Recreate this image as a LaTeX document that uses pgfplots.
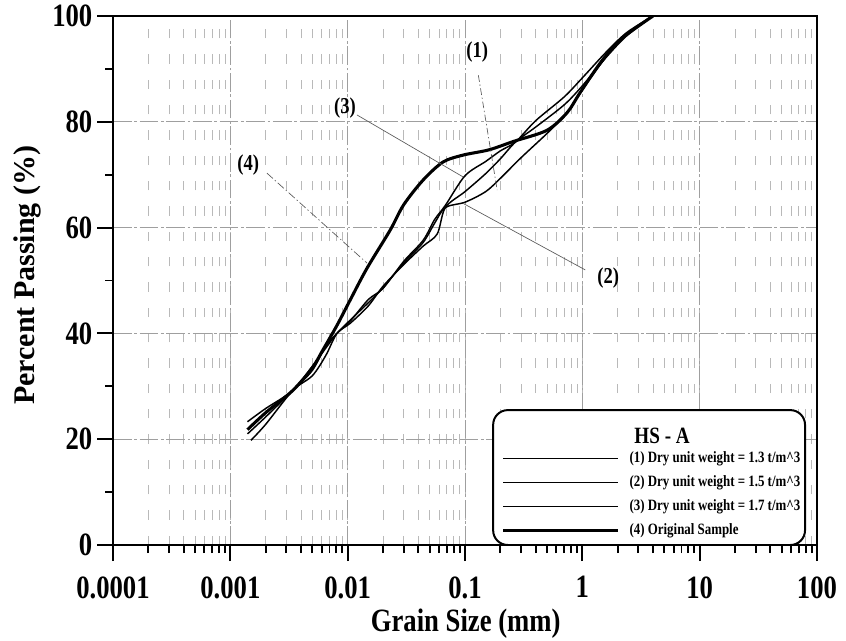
\documentclass[border=0pt]{standalone}
\usepackage{fontspec}
\setmainfont[FakeStretch=0.82]{Liberation Serif}
\newfontfamily\ylabfont{Liberation Serif}
\usepackage{pgfplots}
\pgfplotsset{compat=1.18}
\begin{document}
\begin{tikzpicture}
\begin{axis}[
  xmode=log, scale only axis, width=528pt, height=396.75pt,
  xmin=1e-4, xmax=100, ymin=0, ymax=100,
  xtick={1e-4,1e-3,1e-2,1e-1,1,10,100},
  xticklabels={0.0001,0.001,0.01,0.1,1,10,100},
  ytick={0,20,40,60,80,100},
  yticklabels={0,20,40,60,80,100},
  minor ytick={10,30,50,70,90},
  tick pos=left, tick align=outside,
  major tick length=12pt, minor tick length=6pt,
  tick style={black, line width=1.4pt},
  axis line style={line width=1.8pt},
  ticklabel style={font=\fontsize{24.4}{28}\selectfont\bfseries},
  xticklabel style={yshift=-8pt},
  xmajorgrids, ymajorgrids, xminorgrids,
  major grid style={gray!75, line width=0.6pt, dash pattern=on 14pt off 2pt on 2pt off 2pt},
  minor grid style={gray!55, line width=0.5pt, dash pattern=on 7pt off 12pt},
  xlabel={Grain Size (mm)},
  ylabel={Percent Passing (\%)},
  xlabel style={at={(rel axis cs:0.501,-0.148)}, anchor=center, font=\fontsize{24.4}{28}\selectfont\bfseries},
  ylabel style={at={(rel axis cs:-0.122,0.51)}, anchor=center, font=\ylabfont\fontsize{22.5}{26}\selectfont\bfseries},
  legend style={draw=none, fill=none, at={(rel axis cs:0.552,0.177)}, anchor=north west,
    inner sep=0pt, row sep=6pt, column sep=7.5pt,
    nodes={inner sep=0pt, text height=8.5pt, text depth=3.5pt, anchor=base west},
    font=\fontsize{11.8}{14}\selectfont\bfseries},
  legend cell align=left,
  legend image code/.code={\draw[#1] (0pt,3.5pt) -- (86pt,3.5pt);},
]
% (1) 1.3 t/m^3
\addplot[black, line width=1.1pt, smooth, tension=0.5] coordinates {
(0.0014,23.3) (0.002,25.8) (0.0034,29.2) (0.005,33.8) (0.0065,37.2) (0.0081,40)
(0.0105,42.5) (0.015,45.8) (0.02,48.6) (0.03,53.3) (0.044,57.2) (0.055,60.8)
(0.068,63.8) (0.1,64.8) (0.15,66.8) (0.2,69.3) (0.3,73.2) (0.5,77.8) (0.75,81.8)
(1.0,86) (1.5,91.5) (2.2,96) (4.0,100)};
\addlegendentry{(1) Dry unit weight = 1.3 t/m\^{}3}
% (2) 1.5 t/m^3
\addplot[black, line width=1.1pt, smooth, tension=0.5] coordinates {
(0.0015,19.8) (0.002,22.8) (0.0034,29.2) (0.005,32) (0.0065,35.8) (0.0081,40)
(0.0105,41.9) (0.015,45.2) (0.02,48.9) (0.03,53) (0.044,56.5) (0.058,58.8)
(0.068,63.8) (0.1,66.8) (0.15,70.2) (0.2,73) (0.27,76.2) (0.4,79) (0.7,83.2)
(1.0,86.8) (1.6,92.2) (2.4,96.3) (4.0,100)};
\addlegendentry{(2) Dry unit weight = 1.5 t/m\^{}3}
% (3) 1.7 t/m^3
\addplot[black, line width=1.1pt, smooth, tension=0.5] coordinates {
(0.0014,21) (0.002,24.2) (0.0034,29.2) (0.005,33) (0.0065,37.6) (0.0081,40)
(0.0105,42.3) (0.015,46.4) (0.02,48.5) (0.03,53.6) (0.044,57.6) (0.055,61.5)
(0.068,64.2) (0.1,69.8) (0.15,72.5) (0.2,74.5) (0.27,76.2) (0.4,80.2) (0.7,84.7)
(1.0,88.3) (1.6,93.2) (2.4,96.9) (4.0,100)};
\addlegendentry{(3) Dry unit weight = 1.7 t/m\^{}3}
% (4) Original
\addplot[black, line width=2.3pt, smooth, tension=0.5] coordinates {
(0.0014,21.8) (0.002,25) (0.0034,29.2) (0.005,33.5) (0.0062,37) (0.0081,41.5)
(0.0105,46.3) (0.0146,52.3) (0.023,59.5) (0.03,64.3) (0.044,69) (0.065,72.4)
(0.096,73.7) (0.16,74.7) (0.26,76.3) (0.5,78.4) (0.74,81.7) (0.95,85.4)
(1.42,91.1) (2.1,95.5) (4.0,100)};
\addlegendentry{(4) Original Sample}

% leaders and labels
\draw[gray!70!black, line width=0.5pt, dash pattern=on 5pt off 2pt on 1pt off 2pt] (axis cs:0.130,88.8) -- (axis cs:0.188,67.1);
\draw[gray!70!black, line width=0.5pt] (axis cs:0.012,81.3) -- (axis cs:0.096,69.6);
\draw[gray!70!black, line width=0.5pt] (axis cs:1.06,52) -- (axis cs:0.096,64.6);
\draw[gray!70!black, line width=0.5pt, dash pattern=on 6pt off 2pt on 1pt off 2pt] (axis cs:0.00205,70.3) -- (axis cs:0.0146,53.3);
\node[font=\fontsize{17}{20}\selectfont\bfseries] at (axis cs:0.127,93.2) {(1)};
\node[font=\fontsize{17}{20}\selectfont\bfseries] at (axis cs:0.0095,82.6) {(3)};
\node[font=\fontsize{17}{20}\selectfont\bfseries] at (axis cs:1.66,50.5) {(2)};
\node[font=\fontsize{17}{20}\selectfont\bfseries] at (axis cs:0.00142,71.8) {(4)};

% legend box and title
\draw[black, line width=1.5pt, fill=white, rounded corners=11pt] (rel axis cs:0.540,0) rectangle (rel axis cs:0.983,0.255);
\node[font=\fontsize{17.5}{20}\selectfont\bfseries] at (rel axis cs:0.780,0.206) {HS - A};

\coordinate (sw) at (rel axis cs:0,0);
\coordinate (ne) at (rel axis cs:1,1);
\end{axis}
\pgfresetboundingbox
\path ([xshift=-84.75pt,yshift=-71.25pt]sw) rectangle ([xshift=21.75pt,yshift=12pt]ne);
\end{tikzpicture}
\end{document}
